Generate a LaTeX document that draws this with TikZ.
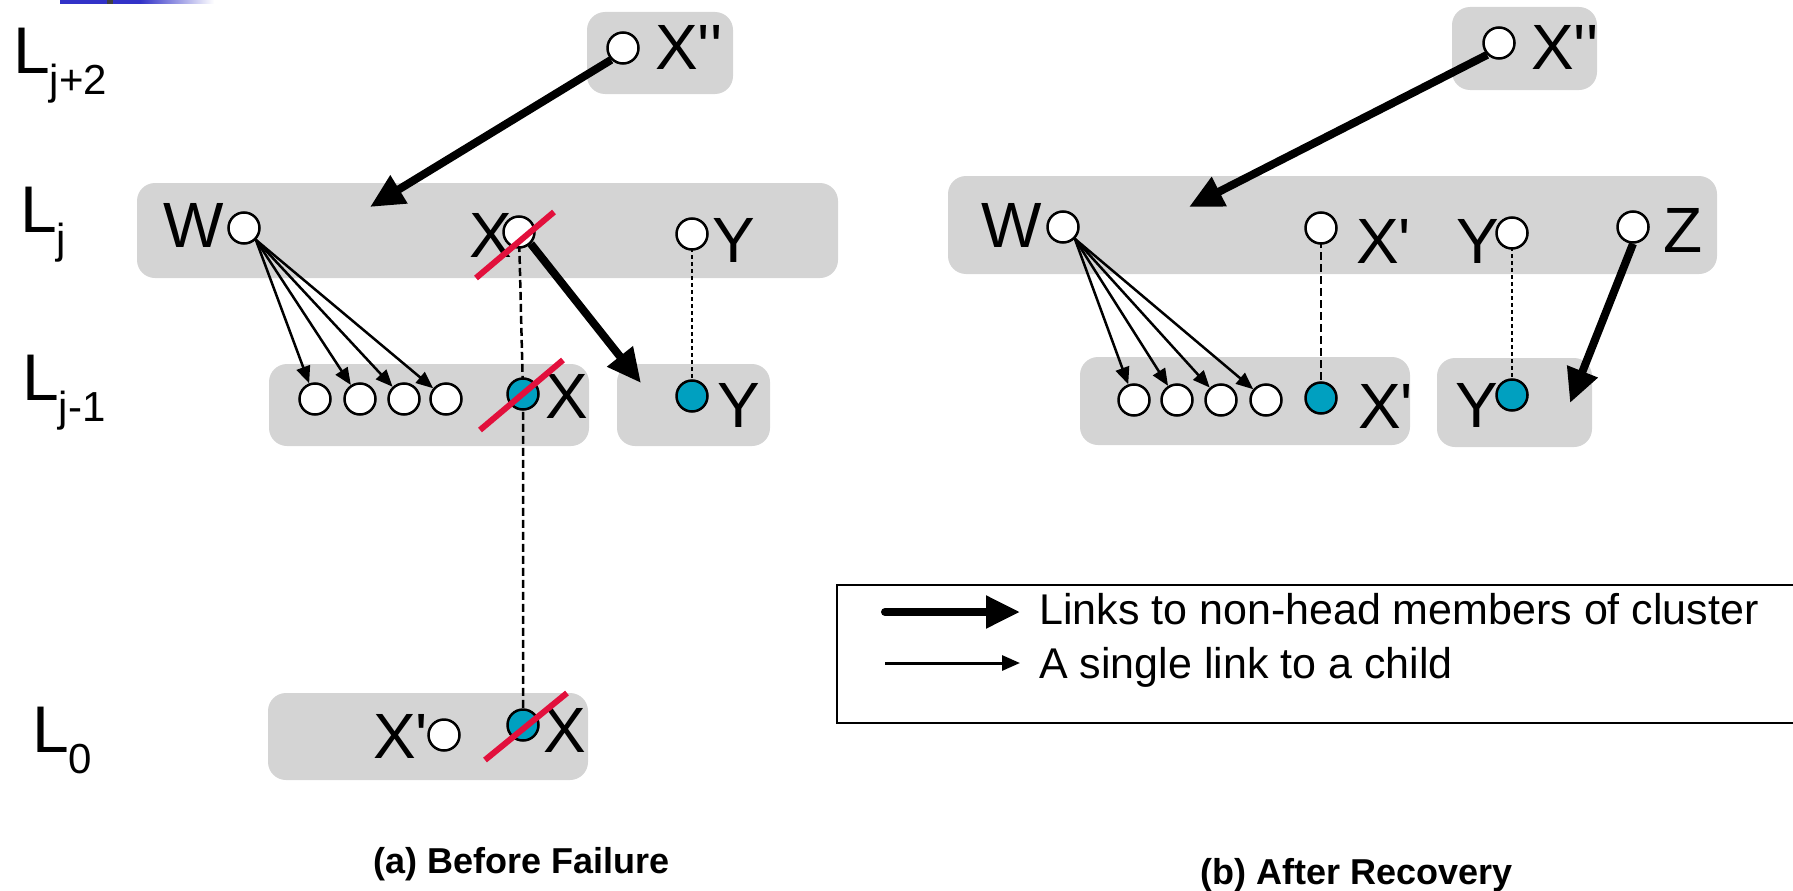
\documentclass[tikz,border=0pt]{standalone}
\usepackage{fontspec}
\setmainfont{Liberation Sans}[Ligatures=TeXOff]
\usetikzlibrary{arrows.meta}

\definecolor{boxgray}{RGB}{212,212,212}
\definecolor{nodeblue}{RGB}{0,160,192}
\definecolor{failred}{RGB}{226,16,60}
\definecolor{barblue}{RGB}{50,50,200}

\pgfdeclarelayer{boxes}
\pgfdeclarelayer{ties}
\pgfsetlayers{boxes,ties,main}

\tikzset{
  cluster/.style={fill=boxgray, rounded corners=18pt},
  member/.style={circle, draw=black, line width=2.5pt, fill=white, minimum size=31pt, inner sep=0pt},
  headnode/.style={member, fill=nodeblue},
  lbl/.style={anchor=base west, inner sep=0pt, font=\fontsize{64}{64}\selectfont},
  lvl/.style={anchor=base west, inner sep=0pt, font=\fontsize{66}{66}\selectfont},
  headlink/.style={-{Triangle[length=34pt,width=31pt]}, line width=8pt},
  childlink/.style={-{Triangle[length=17pt,width=14pt]}, line width=2.5pt},
  samenode/.style={line width=2.5pt, dash pattern=on 8pt off 4pt},
  samehead/.style={line width=2.5pt, dash pattern=on 4pt off 3pt},
  failed/.style={draw=failred, line width=6pt},
  legendtext/.style={anchor=base west, inner sep=0pt, font=\fontsize{43}{43}\selectfont},
  caption/.style={anchor=base west, inner sep=0pt, font=\fontsize{36}{36}\selectfont\bfseries}
}
\newcommand{\sub}[1]{\raisebox{-21pt}{\fontsize{42}{42}\selectfont #1}}

\begin{document}
\begin{tikzpicture}[x=1pt,y=-1pt]
\useasboundingbox (0,0) rectangle (1793,891);

% header bar
\fill[barblue] (60,0) rectangle (140,4);
\shade[left color=barblue, right color=white] (140,0) rectangle (214,4);
\fill[black!75] (107,0) rectangle (113,4);

% level labels
\node[lvl] (Lj2) at (13,74) {L\sub{j+2}};
\node[lvl] (Lj)  at (20,232) {L\sub{j}};
\node[lvl] (Lj1) at (22,400) {L\sub{j-1}};
\node[lvl] (L0)  at (32,752) {L\sub{0}};

% ---------------- (a) Before Failure ----------------
\begin{pgfonlayer}{boxes}
\fill[cluster] (587,12) rectangle (733,94);
\fill[cluster] (137,183) rectangle (838,278);
\fill[cluster] (269,364) rectangle (589,446);
\fill[cluster] (617,364) rectangle (770,446);
\fill[cluster] (268,693) rectangle (588,780);
\end{pgfonlayer}

\node[member] (aXpp) at (623,48) {};
\node[member] (aW)   at (244,228) {};
\node[member] (aX)   at (519,232) {};
\node[member] (aY)   at (692,234) {};
\node[member] (ac1)  at (315,399) {};
\node[member] (ac2)  at (360,399) {};
\node[member] (ac3)  at (404,399) {};
\node[member] (ac4)  at (446,399) {};
\node[headnode] (aX1) at (523,394) {};
\node[headnode] (aY1) at (692,396) {};
\node[member] (aXp0) at (444,735) {};
\node[headnode] (aX0) at (523,725) {};

% ties between copies of the same node on different levels
\begin{pgfonlayer}{ties}
\draw[samenode] (aX.center) -- (aX1.center) -- (aX0.center);
\draw[samehead] (aY.center) -- (aY1.center);
\end{pgfonlayer}

\node[lbl] at (655,70) {X''};
\node[lbl] at (163,247) {W};
\node[lbl] at (469,257) {X};
\node[lbl] at (712,262) {Y};
\node[lbl] at (545,418) {X};
\node[lbl] at (717,427) {Y};
\node[lbl] at (373,758) {X'};
\node[lbl] at (543,752) {X};

\coordinate (aTipW) at (370,207);
\coordinate (aTipY) at (641,383);
\draw[headlink] (aXpp.south west) -- (aTipW);
\draw[headlink] (aX.south east) -- (aTipY);
\foreach \c in {ac1,ac2,ac3,ac4} {\draw[childlink] (aW.south east) -- (\c);}

% failed node marks
\draw[failed] (476,278) -- (554,212);
\draw[failed] (480,430) -- (563,360);
\draw[failed] (485,760) -- (567,693);

\node[caption] at (373,873) {(a) Before Failure};

% ---------------- (b) After Recovery ----------------
\begin{pgfonlayer}{boxes}
\fill[cluster] (1452,7) rectangle (1597,90);
\fill[cluster] (948,176) rectangle (1717,274);
\fill[cluster] (1080,357) rectangle (1410,445);
\fill[cluster] (1437,358) rectangle (1592,447);
\end{pgfonlayer}

\node[member] (bXpp) at (1499,43) {};
\node[member] (bW)   at (1063,227) {};
\node[member] (bXp)  at (1321,228) {};
\node[member] (bY)   at (1512,233) {};
\node[member] (bZ)   at (1633,227) {};
\node[member] (bc1)  at (1134,400) {};
\node[member] (bc2)  at (1177,400) {};
\node[member] (bc3)  at (1221,400) {};
\node[member] (bc4)  at (1266,400) {};
\node[headnode] (bXp1) at (1321,398) {};
\node[headnode] (bY1)  at (1512,395) {};

\begin{pgfonlayer}{ties}
\draw[samenode] (bXp.center) -- (bXp1.center);
\draw[samehead] (bY.center) -- (bY1.center);
\end{pgfonlayer}

\node[lbl] at (1531,70) {X''};
\node[lbl] at (981,247) {W};
\node[lbl] at (1356,263) {X'};
\node[lbl] at (1456,263) {Y};
\node[lbl] at (1663,252) {Z};
\node[lbl] at (1358,428) {X'};
\node[lbl] at (1455,427) {Y};

\coordinate (bTipW) at (1189,207);
\coordinate (bTipZ) at (1570,403);
\draw[headlink] (bXpp.south west) -- (bTipW);
\draw[headlink] (bZ.south) -- (bTipZ);
\foreach \c in {bc1,bc2,bc3,bc4} {\draw[childlink] (bW.south east) -- (\c);}

\node[caption] at (1200,884) {(b) After Recovery};

% ---------------- legend ----------------
\draw[line width=2pt] (837,585) rectangle (1810,723);
\coordinate (l1s) at (885,612);
\coordinate (l1e) at (1020,612);
\coordinate (l2s) at (885,663);
\coordinate (l2e) at (1020,663);
\draw[headlink, line cap=round] (l1s) -- (l1e);
\draw[-{Triangle[length=18pt,width=15pt]}, line width=3pt] (l2s) -- (l2e);
\node[legendtext] at (1039,624) {Links to non-head members of cluster};
\node[legendtext] at (1039,678) {A single link to a child};
\end{tikzpicture}
\end{document}
